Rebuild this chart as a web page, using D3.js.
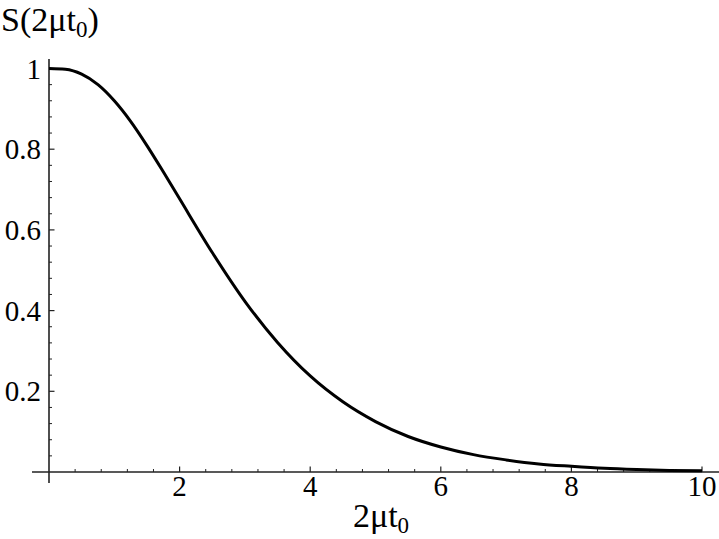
<!DOCTYPE html>
<html>
<head>
<meta charset="utf-8">
<script src="https://cdn.jsdelivr.net/npm/d3@7/dist/d3.min.js"></script>
</head>
<body style="margin:0;background:#fff">
<script>
// Data
const xValues = [0, 0.25, 0.5, 0.75, 1, 1.25, 1.5, 1.75, 2, 2.5, 3, 3.5, 4, 4.5, 5, 5.5, 6, 6.5, 7, 7.5, 8, 8.5, 9, 9.5, 10];
const sValues = [1, 0.998, 0.986, 0.960, 0.920, 0.869, 0.809, 0.744, 0.677, 0.544, 0.423, 0.321, 0.238, 0.174, 0.125, 0.088, 0.062, 0.043, 0.030, 0.020, 0.014, 0.009, 0.006, 0.004, 0.003];
const xMajorTicks = [2, 4, 6, 8, 10];
const xTickLabels = ["2", "4", "6", "8", "10"];
const yMajorTicks = [0.2, 0.4, 0.6, 0.8, 1];
const yTickLabels = ["0.2", "0.4", "0.6", "0.8", "1"];

const FONT = '"Liberation Serif"';
const W = 719, H = 539;
const svg = d3.select("body").append("svg").attr("width", W).attr("height", H)
  .style("display", "block");

const x = d3.scaleLinear().domain([0, 10]).range([49, 702]);
const y = d3.scaleLinear().domain([0, 1]).range([472, 68.5]);

const axisColor = "#222";

svg.append("line").attr("x1", 32).attr("x2", W).attr("y1", y(0)).attr("y2", y(0))
  .attr("stroke", axisColor).attr("stroke-width", 1.6);
svg.append("line").attr("x1", x(0)).attr("x2", x(0)).attr("y1", 59).attr("y2", 483)
  .attr("stroke", axisColor).attr("stroke-width", 1.6);

const xMinor = d3.range(1, 26).map(i => i * 0.4).filter(v => v <= 10.01 && !xMajorTicks.some(m => Math.abs(m - v) < 1e-6));
svg.append("g").selectAll("line").data(xMinor).join("line")
  .attr("x1", d => x(d)).attr("x2", d => x(d))
  .attr("y1", y(0)).attr("y2", y(0) - 3)
  .attr("stroke", axisColor).attr("stroke-width", 1);
svg.append("g").selectAll("line").data(xMajorTicks).join("line")
  .attr("x1", d => x(d)).attr("x2", d => x(d))
  .attr("y1", y(0)).attr("y2", y(0) - 5.5)
  .attr("stroke", axisColor).attr("stroke-width", 1.2);
svg.append("g").selectAll("text").data(xMajorTicks).join("text")
  .attr("x", d => x(d)).attr("y", 496)
  .attr("text-anchor", "middle")
  .style("font-family", FONT).style("font-size", "29px")
  .text((d, i) => xTickLabels[i]);

const yMinor = d3.range(1, 26).map(i => i * 0.04).filter(v => v <= 1.001 && !yMajorTicks.some(m => Math.abs(m - v) < 1e-6));
svg.append("g").selectAll("line").data(yMinor).join("line")
  .attr("x1", x(0)).attr("x2", x(0) + 3)
  .attr("y1", d => y(d)).attr("y2", d => y(d))
  .attr("stroke", axisColor).attr("stroke-width", 1);
svg.append("g").selectAll("line").data(yMajorTicks).join("line")
  .attr("x1", x(0)).attr("x2", x(0) + 5.5)
  .attr("y1", d => y(d)).attr("y2", d => y(d))
  .attr("stroke", axisColor).attr("stroke-width", 1.2);
svg.append("g").selectAll("text").data(yMajorTicks).join("text")
  .attr("x", 41).attr("y", d => y(d) + 10)
  .attr("text-anchor", "end")
  .style("font-family", FONT).style("font-size", "29px")
  .text((d, i) => yTickLabels[i]);

const pts = xValues.map((v, i) => [v, sValues[i]]);
svg.append("path").datum(pts)
  .attr("fill", "none").attr("stroke", "#000").attr("stroke-width", 3)
  .attr("stroke-linejoin", "round")
  .attr("d", d3.line().x(d => x(d[0])).y(d => y(d[1])).curve(d3.curveMonotoneX));

const yt = svg.append("text").attr("x", 1).attr("y", 31)
  .style("font-family", FONT).style("font-size", "34px");
yt.append("tspan").text("S(2μt");
yt.append("tspan").style("font-size", "23px").attr("dy", 6).text("0");
yt.append("tspan").attr("dy", -6).text(")");

const xt = svg.append("text").attr("x", 381).attr("y", 527).attr("text-anchor", "middle")
  .style("font-family", FONT).style("font-size", "34px");
xt.append("tspan").text("2μt");
xt.append("tspan").style("font-size", "23px").attr("dy", 6).text("0");
</script>
</body>
</html>
